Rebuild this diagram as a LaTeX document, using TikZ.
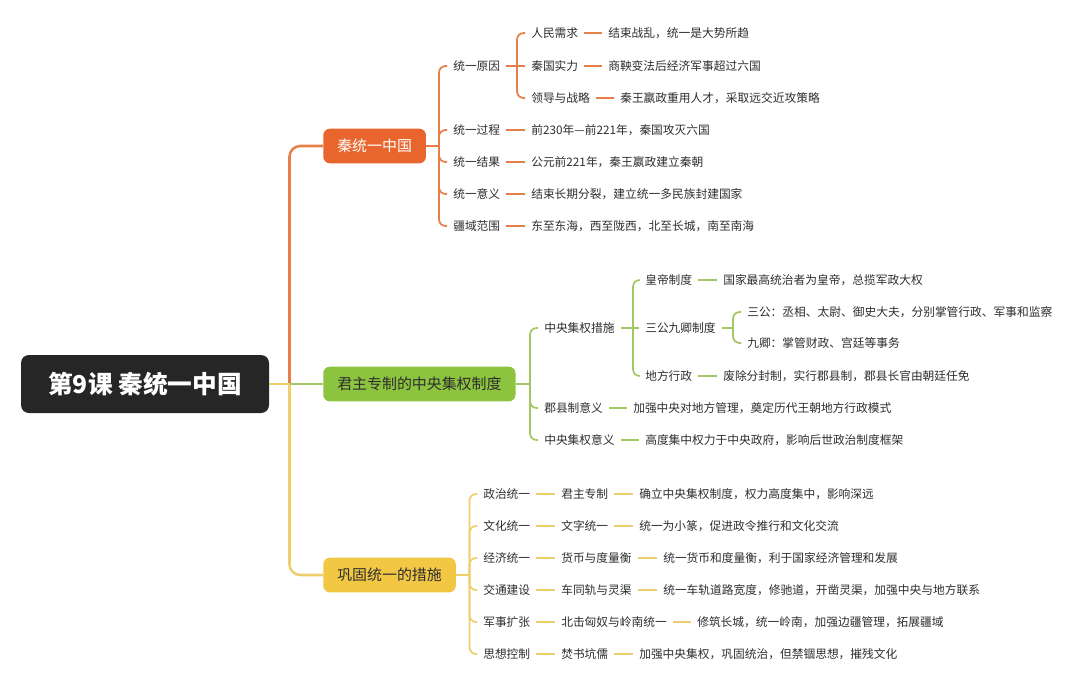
\documentclass[tikz,border=0pt]{standalone}
\usepackage{fontspec}
\setmainfont{Noto Sans CJK SC}
\definecolor{rootgray}{HTML}{262626}
\definecolor{qinorange}{HTML}{E8662E}
\definecolor{qinline}{HTML}{E6804A}
\definecolor{zhigreen}{HTML}{8CC43F}
\definecolor{zhiline}{HTML}{A5C664}
\definecolor{gugold}{HTML}{F2C744}
\definecolor{guline}{HTML}{EDCF6E}
\definecolor{txtgray}{HTML}{2E2E2E}
\begin{document}
\begin{tikzpicture}[x=0.75pt, y=-0.75pt,
  rootbox/.style={fill=rootgray, text=white, rounded corners=6pt, minimum width=186pt, minimum height=43.5pt, font=\fontsize{18.5}{20}\selectfont\bfseries},
  topic/.style={anchor=west, rounded corners=5pt, minimum height=26pt, inner xsep=10.5pt, font=\fontsize{11.2}{13}\selectfont},
  leaf/.style={anchor=west, inner xsep=4.5pt, inner ysep=2pt, text=txtgray, font=\fontsize{8.8}{10}\selectfont},
  oline/.style={draw=qinline, line width=1.3pt, rounded corners=5pt},
  gline/.style={draw=zhiline, line width=1.3pt, rounded corners=5pt},
  yline/.style={draw=guline, line width=1.3pt, rounded corners=5pt},
  trunk/.style={line width=1.9pt, rounded corners=8pt}]
\fill[white] (0,0) rectangle (1080,689);
\useasboundingbox (0,0) rectangle (1080,689);
\node[rootbox] (root) at (145,384) {第9课 秦统一中国};
\node[topic, fill=qinorange, text=white] (qin) at (323,146) {秦统一中国};
\node[topic, fill=zhigreen, text=txtgray] (zhi) at (323,384) {君主专制的中央集权制度};
\node[topic, fill=gugold, text=txtgray] (gu) at (323,575) {巩固统一的措施};
\coordinate (tk) at (289.5,384);
\draw[trunk, draw=qinline] (tk) |- (qin.west);
\draw[trunk, draw=guline] (tk) |- (gu.west);
\path[line width=1.9pt, draw=guline] (root.east) edge (tk);
\path[line width=1.9pt, draw=zhiline] (tk) edge (zhi.west);
% 秦统一中国
\node[leaf] (yy) at (447,66) {统一原因};
\node[leaf] (rm) at (525,33) {人民需求};
\node[leaf] (rmt) at (602,33) {结束战乱，统一是大势所趋};
\node[leaf] (qg) at (525,66) {秦国实力};
\node[leaf] (qgt) at (602,66) {商鞅变法后经济军事超过六国};
\node[leaf] (ld) at (525,98) {领导与战略};
\node[leaf] (ldt) at (614,98) {秦王嬴政重用人才，采取远交近攻策略};
\node[leaf] (gc) at (447,130) {统一过程};
\node[leaf] (gct) at (525,130) {前230年—前221年，秦国攻灭六国};
\node[leaf] (jg) at (447,162) {统一结果};
\node[leaf] (jgt) at (525,162) {公元前221年，秦王嬴政建立秦朝};
\node[leaf] (yi) at (447,194) {统一意义};
\node[leaf] (yit) at (525,194) {结束长期分裂，建立统一多民族封建国家};
\node[leaf] (jy) at (447,226) {疆域范围};
\node[leaf] (jyt) at (525,226) {东至东海，西至陇西，北至长城，南至南海};
\coordinate (qb) at (439,146);
\coordinate (yb) at (517,66);
\path[oline] (qin.east) edge (qb);
\draw[oline] (qb) |- (yy.west);
\draw[oline] (qb) |- (gc.west);
\draw[oline] (qb) |- (jg.west);
\draw[oline] (qb) |- (yi.west);
\draw[oline] (qb) |- (jy.west);
\path[oline] (yy.east) edge (yb);
\draw[oline] (yb) |- (rm.west);
\path[oline] (yb) edge (qg.west);
\draw[oline] (yb) |- (ld.west);
\path[oline] (rm) edge (rmt);
\path[oline] (qg) edge (qgt);
\path[oline] (ld) edge (ldt);
\path[oline] (gc) edge (gct);
\path[oline] (jg) edge (jgt);
\path[oline] (yi) edge (yit);
\path[oline] (jy) edge (jyt);
% 君主专制的中央集权制度
\node[leaf] (cs) at (538,328) {中央集权措施};
\node[leaf] (hd) at (639,280) {皇帝制度};
\node[leaf] (hdt) at (717,280) {国家最高统治者为皇帝，总揽军政大权};
\node[leaf] (sg) at (639,328) {三公九卿制度};
\node[leaf] (sga) at (741,312) {三公：丞相、太尉、御史大夫，分别掌管行政、军事和监察};
\node[leaf] (sgb) at (741,343) {九卿：掌管财政、宫廷等事务};
\node[leaf] (df) at (639,376) {地方行政};
\node[leaf] (dft) at (717,376) {废除分封制，实行郡县制，郡县长官由朝廷任免};
\node[leaf] (jx) at (538,408) {郡县制意义};
\node[leaf] (jxt) at (627,408) {加强中央对地方管理，奠定历代王朝地方行政模式};
\node[leaf] (zy) at (538,440) {中央集权意义};
\node[leaf] (zyt) at (639,440) {高度集中权力于中央政府，影响后世政治制度框架};
\coordinate (zb) at (530,384);
\coordinate (cb) at (633,328);
\coordinate (sb) at (733,328);
\path[gline] (zhi.east) edge (zb);
\draw[gline] (zb) |- (cs.west);
\draw[gline] (zb) |- (jx.west);
\draw[gline] (zb) |- (zy.west);
\path[gline] (cs.east) edge (cb);
\draw[gline] (cb) |- (hd.west);
\path[gline] (cb) edge (sg.west);
\draw[gline] (cb) |- (df.west);
\path[gline] (sg.east) edge (sb);
\draw[gline] (sb) |- (sga.west);
\draw[gline] (sb) |- (sgb.west);
\path[gline] (hd) edge (hdt);
\path[gline] (df) edge (dft);
\path[gline] (jx) edge (jxt);
\path[gline] (zy) edge (zyt);
% 巩固统一的措施
\node[leaf] (zz) at (477,494) {政治统一};
\node[leaf] (zzm) at (555,494) {君主专制};
\node[leaf] (zzt) at (633,494) {确立中央集权制度，权力高度集中，影响深远};
\node[leaf] (wh) at (477,526) {文化统一};
\node[leaf] (whm) at (555,526) {文字统一};
\node[leaf] (wht) at (633,526) {统一为小篆，促进政令推行和文化交流};
\node[leaf] (jj) at (477,558) {经济统一};
\node[leaf] (jjm) at (555,558) {货币与度量衡};
\node[leaf] (jjt) at (657,558) {统一货币和度量衡，利于国家经济管理和发展};
\node[leaf] (jt) at (477,590) {交通建设};
\node[leaf] (jtm) at (555,590) {车同轨与灵渠};
\node[leaf] (jtt) at (657,590) {统一车轨道路宽度，修驰道，开凿灵渠，加强中央与地方联系};
\node[leaf] (js) at (477,622) {军事扩张};
\node[leaf] (jsm) at (555,622) {北击匈奴与岭南统一};
\node[leaf] (jst) at (691,622) {修筑长城，统一岭南，加强边疆管理，拓展疆域};
\node[leaf] (sx) at (477,654) {思想控制};
\node[leaf] (sxm) at (555,654) {焚书坑儒};
\node[leaf] (sxt) at (633,654) {加强中央集权，巩固统治，但禁锢思想，摧残文化};
\coordinate (gb) at (469.5,575);
\path[yline] (gu.east) edge (gb);
\draw[yline] (gb) |- (zz.west);
\draw[yline] (gb) |- (wh.west);
\draw[yline] (gb) |- (jj.west);
\draw[yline] (gb) |- (jt.west);
\draw[yline] (gb) |- (js.west);
\draw[yline] (gb) |- (sx.west);
\path[yline] (zz) edge (zzm);
\path[yline] (zzm) edge (zzt);
\path[yline] (wh) edge (whm);
\path[yline] (whm) edge (wht);
\path[yline] (jj) edge (jjm);
\path[yline] (jjm) edge (jjt);
\path[yline] (jt) edge (jtm);
\path[yline] (jtm) edge (jtt);
\path[yline] (js) edge (jsm);
\path[yline] (jsm) edge (jst);
\path[yline] (sx) edge (sxm);
\path[yline] (sxm) edge (sxt);
\end{tikzpicture}
\end{document}
